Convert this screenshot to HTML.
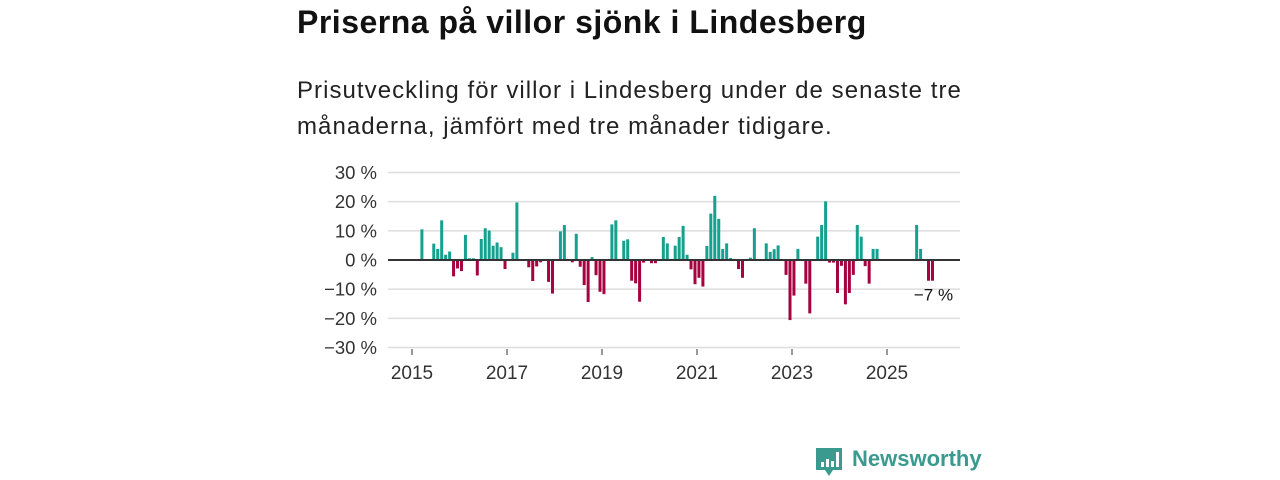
<!DOCTYPE html>
<html><head><meta charset="utf-8">
<style>
body{margin:0;width:1280px;height:480px;background:#fff;font-family:"Liberation Sans",sans-serif;overflow:hidden;position:relative}
#title{position:absolute;left:297px;top:4px;font-size:32px;letter-spacing:0.5px;font-weight:bold;color:#111;margin:0}
#sub{position:absolute;left:297px;top:73px;font-size:24px;letter-spacing:1.05px;line-height:36px;color:#222;margin:0;width:720px}
svg{position:absolute;left:0;top:0}
#logo{position:absolute;left:852px;top:446px;font-size:22px;font-weight:bold;color:#3a9a8f}
</style></head><body>
<h1 id="title">Priserna på villor sjönk i Lindesberg</h1>
<p id="sub">Prisutveckling för villor i Lindesberg under de senaste tre<br>månaderna, jämfört med tre månader tidigare.</p>
<svg id="chart" width="1280" height="480"></svg>
<svg width="1280" height="480">
<path d="M816 448h26v22h-9l-4 6-4-6h-9z" fill="#3a9a8f"/>
<rect x="821" y="462" width="3" height="5" fill="#fff"/><rect x="826" y="459" width="3" height="8" fill="#fff"/><rect x="831" y="461" width="3" height="6" fill="#fff"/><rect x="836" y="452" width="3" height="15" fill="#fff"/>
</svg>
<div id="logo">Newsworthy</div>
<script>
const monthIdx=[2,5,6,7,8,9,10,11,12,13,14,15,16,17,18,19,20,21,22,23,25,26,29,30,31,32,34,35,37,38,40,41,42,43,44,45,46,47,48,50,51,53,54,55,56,57,58,60,61,63,64,66,67,68,69,70,71,72,73,74,75,76,77,78,79,80,82,83,85,86,89,90,91,92,94,95,96,97,99,100,102,103,104,105,106,107,108,109,110,111,112,113,114,115,116,117,127,128,130,131];
const values=[10.5,5.6,3.8,13.6,1.8,2.9,-5.6,-2.9,-3.8,8.6,0.6,0.6,-5.3,7.2,10.9,10.1,4.9,6,4.4,-3.1,2.5,19.7,-2.5,-7.2,-2.2,-0.8,-7.5,-11.5,9.8,12,-0.8,9,-2.3,-8.6,-14.4,1,-5.2,-10.9,-11.7,12.2,13.6,6.6,7.1,-7.1,-8,-14.3,-0.9,-1.1,-1.1,7.9,5.7,4.9,7.9,11.7,1.8,-3.2,-8.3,-6.1,-9.1,4.8,15.9,22,14.1,3.8,5.7,0.7,-3.1,-6.1,0.8,10.9,5.7,2.8,3.7,5,-5.1,-20.6,-12.2,3.8,-8.1,-18.3,8,12,20.1,-0.9,-0.9,-11.3,-2,-15.2,-11.3,-5.1,12,8,-2.1,-8.1,3.8,3.8,12,3.8,-7.1,-7.1];
const yTicks=[30,20,10,0,-10,-20,-30];
const xTicks=[2015,2017,2019,2021,2023,2025];
const lastLabel="−7 %";
const NS="http://www.w3.org/2000/svg";
const svg=document.getElementById('chart');
const y=v=>260-2.917*v;
const xm=i=>412+(i+0.5)*3.958;
const xy=yr=>412+(yr-2015)*47.5;
function mk(t,a){const e=document.createElementNS(NS,t);for(const k in a)e.setAttribute(k,a[k]);svg.appendChild(e);return e;}
yTicks.forEach(v=>{
  if(v!==0){const g=mk('line',{x1:388,x2:960,y1:y(v),y2:y(v),stroke:'#ddd','stroke-width':1.5});
  
  }
  const t=mk('text',{x:377,y:y(v)+6.5,'text-anchor':'end','font-size':18.5,fill:'#333','font-family':'Liberation Sans, sans-serif'});
  t.textContent=(v<0?'−'+(-v):v)+' %';
  
  
});
xTicks.forEach(yr=>{
  const l=mk('line',{x1:xy(yr),x2:xy(yr),y1:349,y2:355,stroke:'#333','stroke-width':1});
  
  
  const t=mk('text',{x:xy(yr),y:379,'text-anchor':'middle','font-size':19,fill:'#333','font-family':'Liberation Sans, sans-serif'});
  t.textContent=yr;
  
  
});
values.forEach((v,k)=>{
  const x=xm(monthIdx[k]);
  const r=mk('rect',{x:x-1.5,width:3,y:Math.min(y(v),y(0)),height:Math.abs(y(v)-y(0)),fill:v>=0?'#16a08f':'#a5023f'});
  
  
});
const z=mk('line',{x1:388,x2:960,y1:y(0),y2:y(0),stroke:'#333','stroke-width':2});


const lt=mk('text',{x:xm(monthIdx[monthIdx.length-1])+1,y:y(values[values.length-1])+20,'text-anchor':'middle','font-size':17,fill:'#111','font-family':'Liberation Sans, sans-serif'});
lt.textContent=lastLabel;


</script>
</body></html>
